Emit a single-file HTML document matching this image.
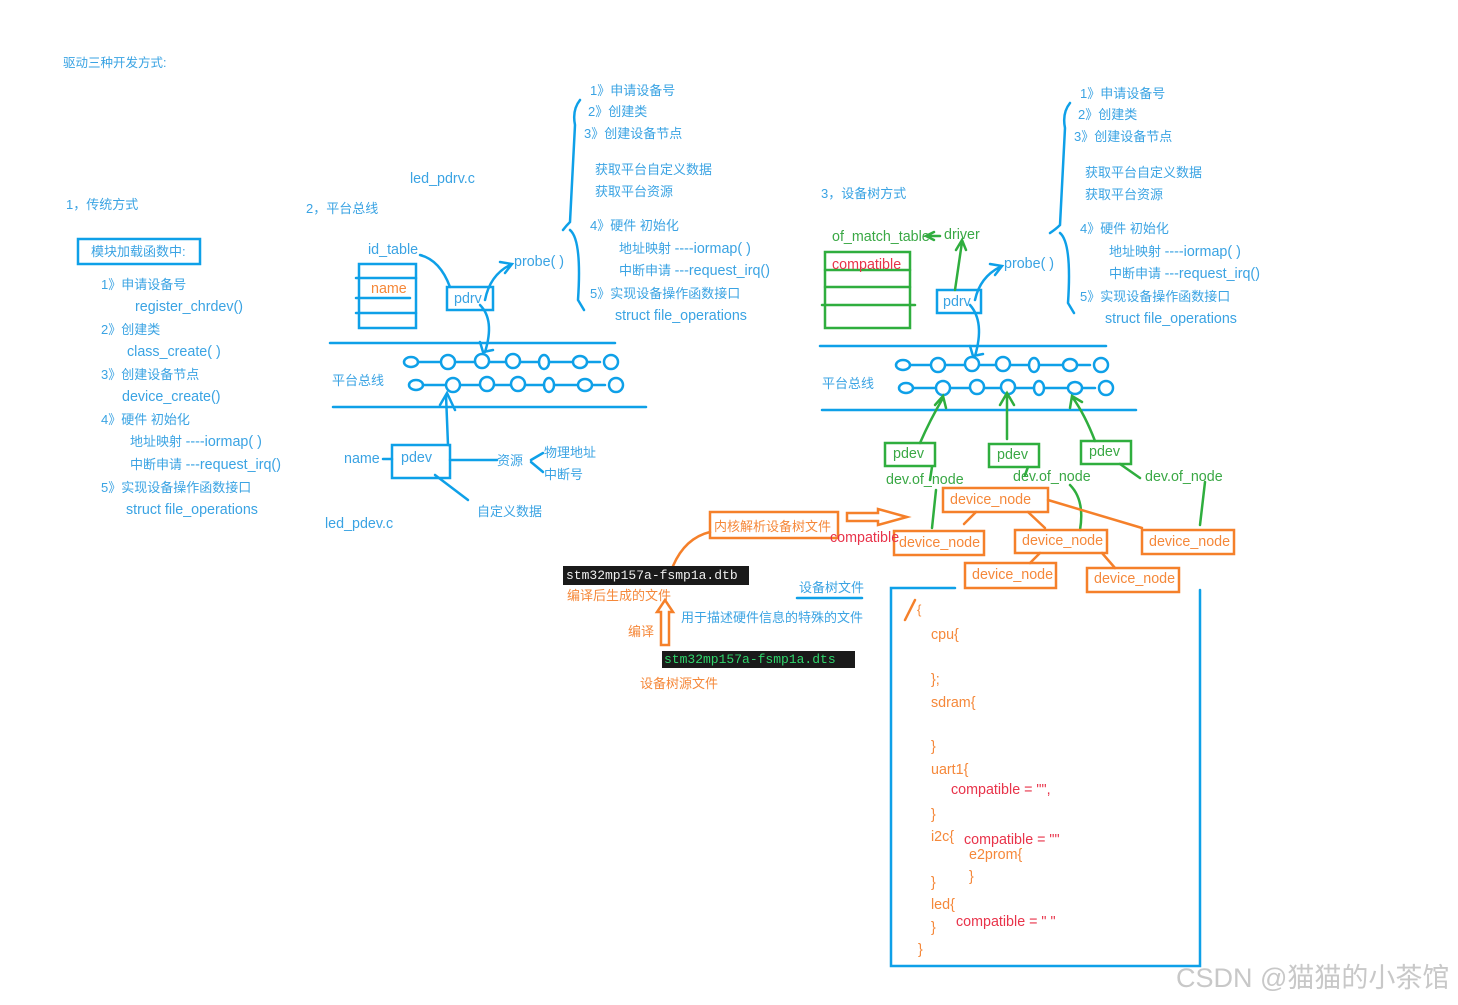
<!DOCTYPE html>
<html><head><meta charset="utf-8">
<style>
body{margin:0;background:#fff;width:1458px;height:1005px;overflow:hidden;position:relative;font-family:"Liberation Sans","Noto Sans CJK SC",sans-serif;}
.t{position:absolute;font-size:13px;line-height:18px;white-space:nowrap;color:#3aa3e3;}
.l{font-size:14.3px}
.o{color:#f5883a}.r{color:#e8334a}.g{color:#3aa845}
svg{position:absolute;left:0;top:0}
.m{font-family:"Liberation Mono",monospace;font-size:13px;}
</style></head><body>
<svg width="1458" height="1005" fill="none" stroke-linecap="round">
<g stroke="#0ea0e8" stroke-width="2.5">
<rect x="78" y="239" width="122" height="25"/>
<rect x="359" y="264" width="57" height="64"/>
<line x1="356" y1="278" x2="416" y2="278"/><line x1="356" y1="298" x2="410" y2="298"/><line x1="356" y1="313" x2="416" y2="313"/>
<rect x="447" y="287" width="46" height="23"/>
<path d="M420 255 Q440 260 450 287"/>
<path d="M485 300 Q490 275 510 265 M500 262 L512 264 L505 273"/>
<path d="M480 305 Q495 320 485 352 M480 342 L483 352 L493 350"/>
<line x1="330" y1="343" x2="615" y2="343"/><line x1="333" y1="407" x2="646" y2="407"/>
<path d="M448 445 L446 395 M440 405 L447 393 L455 410"/>
<rect x="392" y="445" width="58" height="33"/>
<line x1="383" y1="459" x2="392" y2="459"/>
<line x1="450" y1="460" x2="497" y2="460"/>
<path d="M531 460 L543 453 M531 462 L543 472"/>
<line x1="435" y1="475" x2="468" y2="500"/>
<path d="M580 100 Q572 110 575 125 Q570 220 570 222 Q566 226 563 230 M570 230 Q582 240 578 300 L584 310"/>
<path d="M1070 103 Q1062 113 1065 128 Q1060 222 1060 225 Q1056 229 1050 233 M1060 233 Q1072 243 1068 303 L1074 313"/>
<rect x="937" y="290" width="44" height="23"/>
<path d="M975 300 Q980 277 1000 267 M990 264 L1002 266 L995 275"/>
<path d="M970 305 Q985 322 975 356 M970 346 L973 356 L983 354"/>
<line x1="820" y1="346" x2="1106" y2="346"/><line x1="822" y1="410" x2="1136" y2="410"/>
<path d="M955 588 H891 V966 H1200 V590"/>
<line x1="797" y1="598" x2="862" y2="598"/>
</g>
<g stroke="#0ea0e8" stroke-width="2.5" fill="#fff">
<path d="M418 362 H600 M416 385 H605"/>
<ellipse cx="411" cy="362" rx="7" ry="5"/><circle cx="448" cy="362" r="7"/><circle cx="482" cy="361" r="7"/><circle cx="513" cy="361" r="7"/><ellipse cx="544" cy="362" rx="5" ry="7"/><ellipse cx="580" cy="362" rx="7" ry="6"/><circle cx="611" cy="362" r="7"/>
<ellipse cx="416" cy="385" rx="7" ry="5"/><circle cx="453" cy="385" r="7"/><circle cx="487" cy="384" r="7"/><circle cx="518" cy="384" r="7"/><ellipse cx="549" cy="385" rx="5" ry="7"/><ellipse cx="585" cy="385" rx="7" ry="6"/><circle cx="616" cy="385" r="7"/>
<path d="M908 365 H1090 M906 388 H1095"/>
<ellipse cx="903" cy="365" rx="7" ry="5"/><circle cx="938" cy="365" r="7"/><circle cx="972" cy="364" r="7"/><circle cx="1003" cy="364" r="7"/><ellipse cx="1034" cy="365" rx="5" ry="7"/><ellipse cx="1070" cy="365" rx="7" ry="6"/><circle cx="1101" cy="365" r="7"/>
<ellipse cx="906" cy="388" rx="7" ry="5"/><circle cx="943" cy="388" r="7"/><circle cx="977" cy="387" r="7"/><circle cx="1008" cy="387" r="7"/><ellipse cx="1039" cy="388" rx="5" ry="7"/><ellipse cx="1075" cy="388" rx="7" ry="6"/><circle cx="1106" cy="388" r="7"/>
</g>
<g stroke="#2fae3e" stroke-width="2.5">
<rect x="825" y="252" width="85" height="76"/>
<line x1="825" y1="270" x2="910" y2="270"/><line x1="825" y1="287" x2="910" y2="287"/><line x1="822" y1="305" x2="915" y2="305"/>
<path d="M940 236 H928 M934 232 L926 236 L934 240"/>
<path d="M955 290 L962 242 M956 250 L962 240 L966 250"/>
<rect x="885" y="443" width="50" height="23"/><rect x="989" y="444" width="50" height="23"/><rect x="1081" y="441" width="50" height="23"/>
<path d="M920 443 Q930 420 943 398 M935 405 L943 396 L946 408"/>
<path d="M1007 439 L1007 395 M1000 405 L1007 393 L1014 405"/>
<path d="M1095 441 Q1085 415 1073 398 M1070 408 L1072 396 L1082 402"/>
<path d="M932 467 L930 480 M936 490 L932 528"/>
<path d="M1028 467 L1025 475 M1070 485 Q1085 500 1080 530"/>
<path d="M1120 464 L1140 478 M1205 482 L1200 525"/>
</g>
<g stroke="#f5802a" stroke-width="2.5">
<rect x="943" y="488" width="105" height="24"/><rect x="894" y="531" width="90" height="24"/><rect x="1015" y="530" width="92" height="23"/><rect x="1142" y="530" width="92" height="24"/><rect x="965" y="563" width="91" height="25"/><rect x="1087" y="568" width="92" height="24"/>
<line x1="976" y1="512" x2="964" y2="524"/><line x1="1028" y1="512" x2="1045" y2="528"/><line x1="1048" y1="500" x2="1142" y2="528"/><line x1="1040" y1="553" x2="1030" y2="563"/><line x1="1102" y1="553" x2="1115" y2="568"/>
<rect x="710" y="512" width="128" height="26"/>
<path d="M847 513 H878 V509 L907 517 L878 525 V521 H847 Z"/>
<path d="M673 566 Q685 538 710 532"/>
<path d="M661 645 V612 H657 L665 600 L673 612 H669 V645 Z"/>
<line x1="905" y1="620" x2="915" y2="600"/>
</g>
</svg>
<div style="position:absolute;left:563px;top:566px;width:186px;height:19px;background:#1a1a1a"></div>
<div class="t m" style="left:566px;top:567px;color:#eee">stm32mp157a-fsmp1a.dtb</div>
<div style="position:absolute;left:662px;top:651px;width:193px;height:17px;background:#1a1a1a"></div>
<div class="t m" style="left:664px;top:651px;color:#2ed36a">stm32mp157a-fsmp1a.dts</div>

<div class="t" style="left:63px;top:54px;font-size:12.5px">驱动三种开发方式:</div>
<div class="t" style="left:66px;top:196px">1，传统方式</div>
<div class="t" style="left:91px;top:243px">模块加载函数中:</div>
<div class="t" style="left:101px;top:276px">1》申请设备号</div>
<div class="t l" style="left:135px;top:298px">register_chrdev()</div>
<div class="t" style="left:101px;top:321px">2》创建类</div>
<div class="t l" style="left:127px;top:343px">class_create( )</div>
<div class="t" style="left:101px;top:366px">3》创建设备节点</div>
<div class="t l" style="left:122px;top:388px">device_create()</div>
<div class="t" style="left:101px;top:411px">4》硬件 初始化</div>
<div class="t" style="left:130px;top:433px">地址映射 <span class="l">----iormap( )</span></div>
<div class="t" style="left:130px;top:456px">中断申请 <span class="l">---request_irq()</span></div>
<div class="t" style="left:101px;top:479px">5》实现设备操作函数接口</div>
<div class="t l" style="left:126px;top:501px">struct file_operations</div>

<div class="t" style="left:306px;top:200px">2，平台总线</div>
<div class="t l" style="left:410px;top:170px">led_pdrv.c</div>
<div class="t l" style="left:368px;top:241px">id_table</div>
<div class="t o l" style="left:371px;top:280px">name</div>
<div class="t l" style="left:454px;top:290px">pdrv</div>
<div class="t l" style="left:514px;top:253px">probe( )</div>
<div class="t" style="left:332px;top:372px">平台总线</div>
<div class="t l" style="left:344px;top:450px">name</div>
<div class="t l" style="left:401px;top:449px">pdev</div>
<div class="t" style="left:497px;top:452px">资源</div>
<div class="t" style="left:544px;top:444px">物理地址</div>
<div class="t" style="left:544px;top:466px">中断号</div>
<div class="t" style="left:477px;top:503px">自定义数据</div>
<div class="t l" style="left:325px;top:515px">led_pdev.c</div>

<div class="t" style="left:590px;top:82px">1》申请设备号</div>
<div class="t" style="left:588px;top:103px">2》创建类</div>
<div class="t" style="left:584px;top:125px">3》创建设备节点</div>
<div class="t" style="left:595px;top:161px">获取平台自定义数据</div>
<div class="t" style="left:595px;top:183px">获取平台资源</div>
<div class="t" style="left:590px;top:217px">4》硬件 初始化</div>
<div class="t" style="left:619px;top:240px">地址映射 <span class="l">----iormap( )</span></div>
<div class="t" style="left:619px;top:262px">中断申请 <span class="l">---request_irq()</span></div>
<div class="t" style="left:590px;top:285px">5》实现设备操作函数接口</div>
<div class="t l" style="left:615px;top:307px">struct file_operations</div>

<div class="t" style="left:1080px;top:85px">1》申请设备号</div>
<div class="t" style="left:1078px;top:106px">2》创建类</div>
<div class="t" style="left:1074px;top:128px">3》创建设备节点</div>
<div class="t" style="left:1085px;top:164px">获取平台自定义数据</div>
<div class="t" style="left:1085px;top:186px">获取平台资源</div>
<div class="t" style="left:1080px;top:220px">4》硬件 初始化</div>
<div class="t" style="left:1109px;top:243px">地址映射 <span class="l">----iormap( )</span></div>
<div class="t" style="left:1109px;top:265px">中断申请 <span class="l">---request_irq()</span></div>
<div class="t" style="left:1080px;top:288px">5》实现设备操作函数接口</div>
<div class="t l" style="left:1105px;top:310px">struct file_operations</div>

<div class="t" style="left:821px;top:185px">3，设备树方式</div>
<div class="t g l" style="left:832px;top:228px">of_match_table</div>
<div class="t g l" style="left:944px;top:226px">driver</div>
<div class="t r l" style="left:832px;top:256px">compatible</div>
<div class="t l" style="left:943px;top:293px">pdrv</div>
<div class="t l" style="left:1004px;top:255px">probe( )</div>
<div class="t" style="left:822px;top:375px">平台总线</div>
<div class="t g l" style="left:893px;top:445px">pdev</div>
<div class="t g l" style="left:997px;top:446px">pdev</div>
<div class="t g l" style="left:1089px;top:443px">pdev</div>
<div class="t g l" style="left:886px;top:471px">dev.of_node</div>
<div class="t g l" style="left:1013px;top:468px">dev.of_node</div>
<div class="t g l" style="left:1145px;top:468px">dev.of_node</div>
<div class="t o l" style="left:950px;top:491px">device_node</div>
<div class="t o l" style="left:899px;top:534px">device_node</div>
<div class="t o l" style="left:1022px;top:532px">device_node</div>
<div class="t o l" style="left:1149px;top:533px">device_node</div>
<div class="t o l" style="left:972px;top:566px">device_node</div>
<div class="t o l" style="left:1094px;top:570px">device_node</div>
<div class="t o" style="left:714px;top:518px">内核解析设备树文件</div>
<div class="t r l" style="left:830px;top:529px">compatible</div>
<div class="t o" style="left:567px;top:587px">编译后生成的文件</div>
<div class="t o" style="left:628px;top:623px">编译</div>
<div class="t" style="left:681px;top:609px">用于描述硬件信息的特殊的文件</div>
<div class="t" style="left:799px;top:579px">设备树文件</div>
<div class="t o" style="left:640px;top:675px">设备树源文件</div>

<div class="t o" style="left:917px;top:601px">{</div>
<div class="t o l" style="left:931px;top:626px">cpu{</div>
<div class="t o l" style="left:931px;top:671px">};</div>
<div class="t o l" style="left:931px;top:694px">sdram{</div>
<div class="t o l" style="left:931px;top:738px">}</div>
<div class="t o l" style="left:931px;top:761px">uart1{</div>
<div class="t r l" style="left:951px;top:781px">compatible = "",</div>
<div class="t o l" style="left:931px;top:806px">}</div>
<div class="t o l" style="left:931px;top:828px">i2c{</div>
<div class="t r l" style="left:964px;top:831px">compatible = ""</div>
<div class="t o l" style="left:969px;top:846px">e2prom{</div>
<div class="t o l" style="left:969px;top:868px">}</div>
<div class="t o l" style="left:931px;top:874px">}</div>
<div class="t o l" style="left:931px;top:896px">led{</div>
<div class="t r l" style="left:956px;top:913px">compatible = " "</div>
<div class="t o l" style="left:931px;top:919px">}</div>
<div class="t o l" style="left:918px;top:941px">}</div>
<div class="t" style="left:1176px;top:962px;font-size:27px;line-height:32px;color:#c8c8c8">CSDN @猫猫的小茶馆</div>
</body></html>
